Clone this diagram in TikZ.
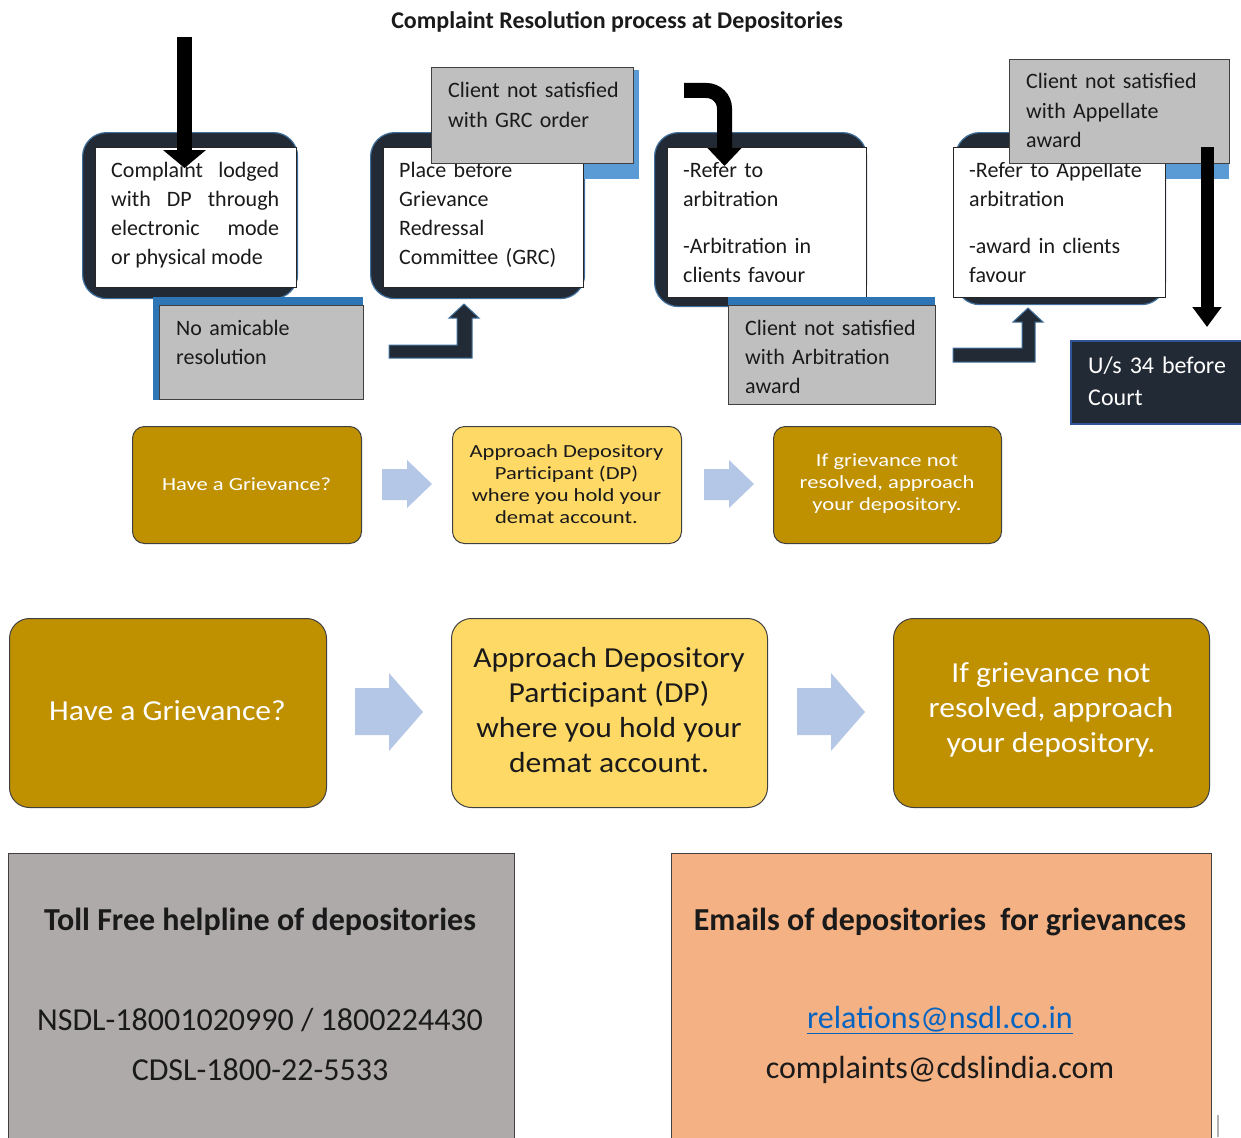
\documentclass[tikz,border=0pt]{standalone}
\usepackage{fontspec}
\setmainfont{Carlito}
\usetikzlibrary{arrows.meta}
\definecolor{navy}{HTML}{222A35}
\definecolor{navyedge}{HTML}{41719C}
\definecolor{bandlight}{HTML}{5B9BD5}
\definecolor{banddark}{HTML}{2E75B6}
\definecolor{grayfill}{HTML}{BFBFBF}
\definecolor{grayedge}{HTML}{404040}
\definecolor{gold}{HTML}{BF9000}
\definecolor{paleyellow}{HTML}{FFD966}
\definecolor{arrowblue}{HTML}{B4C7E7}
\definecolor{bottomgray}{HTML}{AEAAAA}
\definecolor{orangefill}{HTML}{F4B183}
\definecolor{linkblue}{HTML}{0563C1}
\definecolor{usedge}{HTML}{2F5597}
\definecolor{txt}{HTML}{1A1A1A}
\begin{document}
\begin{tikzpicture}[x=1pt,y=-1pt,
  darkbg/.style={fill=navy, draw=navyedge, line width=1.2pt, rounded corners=24pt, anchor=north west, inner sep=0pt},
  whitebox/.style={fill=white, draw=black!85, line width=1pt, anchor=north west, inner sep=0pt},
  graybox/.style={fill=grayfill, draw=grayedge, line width=1.3pt, anchor=north west, inner sep=0pt},
  boxtext/.style={anchor=base west, inner sep=0pt, align=left, text width=200pt, text=txt, font=\fontsize{22}{29.3}\selectfont},
  bentarrow/.style={fill=navy, draw=navyedge, line width=1pt},
  blackarrow/.style={draw=black, line width=15pt},
  goldbox/.style={fill=gold, draw=black!75, line width=1pt, anchor=north west, inner sep=0pt},
  yellowbox/.style={fill=paleyellow, draw=black!75, line width=1pt, anchor=north west, inner sep=0pt},
  smalltxt/.style={align=center, inner sep=0pt, xscale=1.22, font=\fontsize{18.5}{22}\selectfont},
  bigtxt/.style={align=center, inner sep=0pt, xscale=1.09, font=\fontsize{29}{35.3}\selectfont},
  flowarrow/.style={fill=arrowblue},
  infobox/.style={draw=grayedge, line width=1.2pt, anchor=north west, inner sep=0pt},
  infotxt/.style={inner sep=0pt, text=txt, font=\fontsize{32}{38}\selectfont}
]
\useasboundingbox (0,0) rectangle (1241,1137);
\fill[white] (0,0) rectangle (1241,1137);

% title
\node[inner sep=0pt, text=txt, font=\fontsize{24}{28}\selectfont\bfseries] (title) at (617,22) {Complaint Resolution process at Depositories};

% dark rounded backgrounds
\node[darkbg, minimum width=215pt, minimum height=166pt] (d1) at (82,132) {};
\node[darkbg, minimum width=214pt, minimum height=166pt] (d2) at (370,132) {};
\node[darkbg, minimum width=212pt, minimum height=174pt] (d3) at (654,132) {};
\node[darkbg, minimum width=210pt, minimum height=172pt] (d4) at (955,132) {};

% blue bands behind the upper gray boxes (under the white boxes)
\fill[bandlight] (435,70) rectangle (639,179);
\fill[bandlight] (1009,59) rectangle (1229,179);

% white boxes
\node[whitebox, minimum width=201pt, minimum height=140pt] (w1) at (95,147) {};
\node[whitebox, minimum width=200pt, minimum height=140pt] (w2) at (383,147) {};
\node[whitebox, minimum width=199pt, minimum height=150pt] (w3) at (667,147) {};
\node[whitebox, minimum width=212pt, minimum height=150pt] (w4) at (953,147) {};

\node[boxtext, align=justify, text width=168pt] (t1) at (111,177) {Complaint\hfill lodged\\ with\hfill DP\hfill through\\ electronic\hfill mode\\ or physical mode};
\node[boxtext] (t2) at (399,177) {Place before\\Grievance\\Redressal\\Committee (GRC)};
\node[boxtext] (t3) at (683,177) {-Refer to\\arbitration\\[17.7pt]-Arbitration in\\clients favour};
\node[boxtext] (t4) at (969,177) {-Refer to Appellate\\arbitration\\[17.7pt]-award in clients\\favour};

% gray boxes
\node[graybox, minimum width=202pt, minimum height=96pt] (g1) at (431,67) {};
\node[boxtext] (gt1) at (448,98) {Client not satisfied\\with GRC order};

\node[graybox, minimum width=220pt, minimum height=104pt] (g4) at (1009,59) {};
\node[boxtext] (gt4) at (1026,89) {Client not satisfied\\with Appellate\\award};

\fill[banddark] (153,297) rectangle (363,400);
\node[graybox, minimum width=204pt, minimum height=94pt] (g2) at (159,305) {};
\node[boxtext] (gt2) at (176,335) {No amicable\\resolution};

\fill[banddark] (728,297) rectangle (935,305);
\node[graybox, minimum width=207pt, minimum height=99pt] (g3) at (728,305) {};
\node[boxtext] (gt3) at (745,335) {Client not satisfied\\with Arbitration\\award};

% black arrows
\coordinate (a1s) at (184.5,37);
\coordinate (a1e) at (184.5,168);
\draw[blackarrow, -{Triangle[width=42pt,length=18pt]}] (a1s) -- (a1e);
\coordinate (a2s) at (684,90.5);
\coordinate (a2m) at (724.5,90.5);
\coordinate (a2e) at (724.5,166);
\draw[blackarrow, rounded corners=18pt, -{Triangle[width=33pt,length=18pt]}] (a2s) -- (a2m) -- (a2e);
\coordinate (a3s) at (1207,147);
\coordinate (a3e) at (1207,327);
\draw[blackarrow, line width=13pt, -{Triangle[width=28pt,length=20pt]}] (a3s) -- (a3e);

% bent navy arrows
\draw[bentarrow] (389,345) -- (457,345) -- (457,318) -- (449,318) -- (464,304) -- (479,318) -- (472,318) -- (472,358) -- (389,358) -- cycle;
\draw[bentarrow] (953,348) -- (1022,348) -- (1022,322) -- (1013,322) -- (1028,308) -- (1043,322) -- (1035,322) -- (1035,362) -- (953,362) -- cycle;

% U/s 34 box
\node[fill=navy, draw=usedge, line width=2pt, anchor=north west, inner sep=0pt, minimum width=180pt, minimum height=83pt] (us) at (1070,340) {};
\node[boxtext, text=white, font=\fontsize{24}{32}\selectfont] (ust) at (1088,373) {U/s 34 before\\Court};

% small flow row
\node[goldbox, rounded corners=12pt, minimum width=229pt, minimum height=117pt] (sa) at (132,426) {};
\node[yellowbox, rounded corners=12pt, minimum width=229pt, minimum height=117pt] (sb) at (452,426) {};
\node[goldbox, rounded corners=12pt, minimum width=228pt, minimum height=117pt] (sc) at (773,426) {};
\node[smalltxt, text=white] (sat) at (246.5,484) {Have a Grievance?};
\node[smalltxt, text=txt] (sbt) at (566.5,484) {Approach Depository\\Participant (DP)\\where you hold your\\demat account.};
\node[smalltxt, text=white] (sct) at (887,484) {If grievance not\\resolved, approach\\your depository.};
\fill[flowarrow] (382,469) -- (407,469) -- (407,460) -- (432,484) -- (407,508) -- (407,500) -- (382,500) -- cycle;
\fill[flowarrow] (704,469) -- (729,469) -- (729,460) -- (754,484) -- (729,508) -- (729,500) -- (704,500) -- cycle;

% big flow row
\node[goldbox, rounded corners=20pt, minimum width=317pt, minimum height=189pt] (ba) at (9,618) {};
\node[yellowbox, rounded corners=20pt, minimum width=316pt, minimum height=189pt] (bb) at (451,618) {};
\node[goldbox, rounded corners=20pt, minimum width=316pt, minimum height=189pt] (bc) at (893,618) {};
\node[bigtxt, text=white] (bat) at (167.5,711) {Have a Grievance?};
\node[bigtxt, text=txt] (bbt) at (609,710) {Approach Depository\\Participant (DP)\\where you hold your\\demat account.};
\node[bigtxt, text=white] (bct) at (1051,710) {If grievance not\\resolved, approach\\your depository.};
\fill[flowarrow] (355,688) -- (389,688) -- (389,673) -- (423,712) -- (389,751) -- (389,735) -- (355,735) -- cycle;
\fill[flowarrow] (797,688) -- (831,688) -- (831,673) -- (865,712) -- (831,751) -- (831,735) -- (797,735) -- cycle;

% bottom info boxes
\node[infobox, fill=bottomgray, minimum width=506pt, minimum height=300pt] (ib1) at (8,853) {};
\node[infobox, fill=orangefill, minimum width=540pt, minimum height=300pt] (ib2) at (671,853) {};
\node[infotxt, font=\fontsize{32}{38}\selectfont\bfseries] (h1) at (260,922) {Toll Free helpline of depositories};
\node[infotxt] (n1) at (260,1020) {NSDL-18001020990 / 1800224430};
\node[infotxt] (n2) at (260,1070) {CDSL-1800-22-5533};
\node[infotxt, font=\fontsize{32}{38}\selectfont\bfseries] (h2) at (940,922) {Emails of depositories\ \ for grievances};
\node[infotxt, text=linkblue] (e1) at (940,1020) {\underline{relations@nsdl.co.in}};
\node[infotxt] (e2) at (940,1070) {complaints@cdslindia.com};
\draw[black!30, line width=1.5pt] (1218,1115) -- (1218,1137);
\end{tikzpicture}
\end{document}
